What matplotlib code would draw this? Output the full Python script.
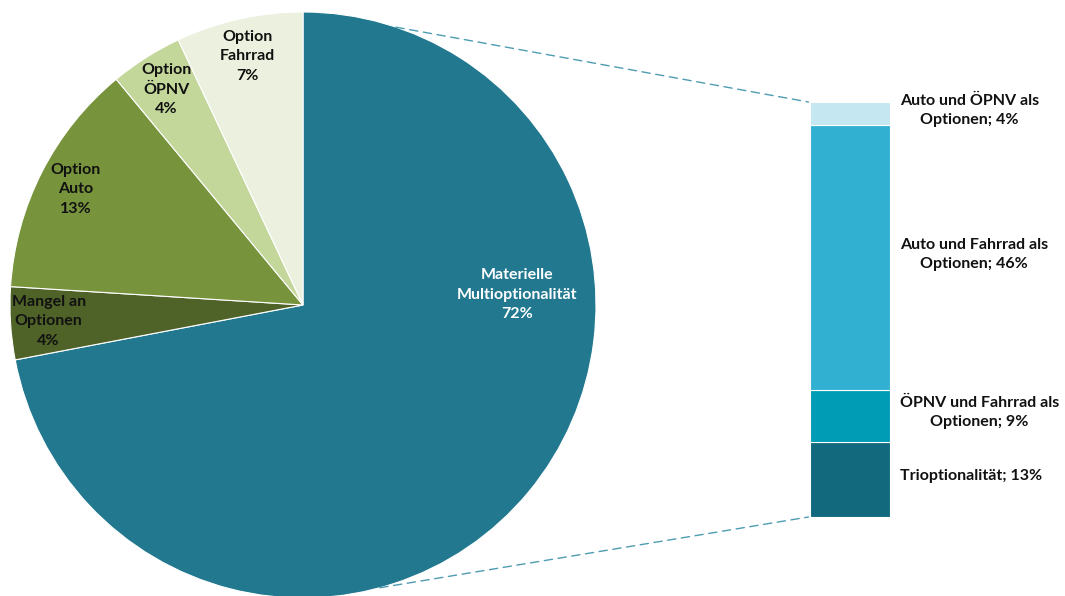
import numpy as np
import matplotlib.pyplot as plt
import matplotlib as mpl
from matplotlib.patches import ConnectionPatch

mpl.rcParams['font.family'] = ['Lato', 'DejaVu Sans']
mpl.rcParams['font.weight'] = 'bold'
mpl.rcParams['font.size'] = 11.5

# pie data (clockwise from 12 o'clock)
pie_labels = ['Materielle\nMultioptionalität\n72%', 'Mangel an\nOptionen\n4%',
              'Option\nAuto\n13%', 'Option\nÖPNV\n4%', 'Option\nFahrrad\n7%']
pie_values = [72, 4, 13, 4, 7]
pie_colors = ['#21788F', '#4F6228', '#77933C', '#C4D79B', '#EBF1DE']

# breakdown of the 72 % slice (bottom to top)
bar_labels = ['Trioptionalität; 13%', 'ÖPNV und Fahrrad als\nOptionen; 9%',
              'Auto und Fahrrad als\nOptionen; 46%', 'Auto und ÖPNV als\nOptionen; 4%']
bar_values = [13, 9, 46, 4]
bar_colors = ['#12697E', '#009BB4', '#31B0D2', '#C5E7F1']

W, H = 1065, 596
fig = plt.figure(figsize=(W / 100, H / 100), dpi=100)

# pie axes: centre (303, 305) px, radius 293 px
cx, cy, r = 303, 305, 293
ax1 = fig.add_axes([(cx - r) / W, (H - cy - r) / H, 2 * r / W, 2 * r / H])
wedges, texts = ax1.pie(pie_values, colors=pie_colors, startangle=90, counterclock=False,
                        labels=pie_labels, labeldistance=0.87,
                        wedgeprops=dict(edgecolor='white', linewidth=0.8))
for t in texts:
    t.set_ha('center')
    t.set_va('center')
    t.set_multialignment('center')
    t.set_linespacing(1.5)
    t.set_color('#111111')
texts[0].set_position((0.73, 0.035))
texts[0].set_color('white')
ax1.set_xlim(-1, 1)
ax1.set_ylim(-1, 1)
ax1.set_aspect('equal')
ax1.axis('off')

# stacked bar axes: x 810-890 px, y 102-517 px
ax2 = fig.add_axes([810 / W, (H - 517) / H, 80 / W, 415 / H])
bottom = 0
for val, col, lab in zip(bar_values, bar_colors, bar_labels):
    ax2.bar(0, val, width=1, bottom=bottom, color=col, edgecolor='white', linewidth=0.8)
    ax2.text(0.5 + 10 / 80, bottom + val / 2 + 0.6, lab, ha='left', va='center',
             multialignment='center', linespacing=1.45, color='#111111', clip_on=False)
    bottom += val
ax2.set_xlim(-0.5, 0.5)
ax2.set_ylim(0, sum(bar_values))
ax2.axis('off')

# dashed connectors
for ang, yb in [(71.5, sum(bar_values)), (-74.8, 0)]:
    a = np.deg2rad(ang)
    con = ConnectionPatch(xyA=(np.cos(a), np.sin(a)), coordsA=ax1.transData,
                          xyB=(-0.52, yb), coordsB=ax2.transData,
                          color='#4E9CB2', linewidth=1.0, linestyle=(0, (6, 4)))
    fig.add_artist(con)

plt.savefig('out.png', dpi=100)
